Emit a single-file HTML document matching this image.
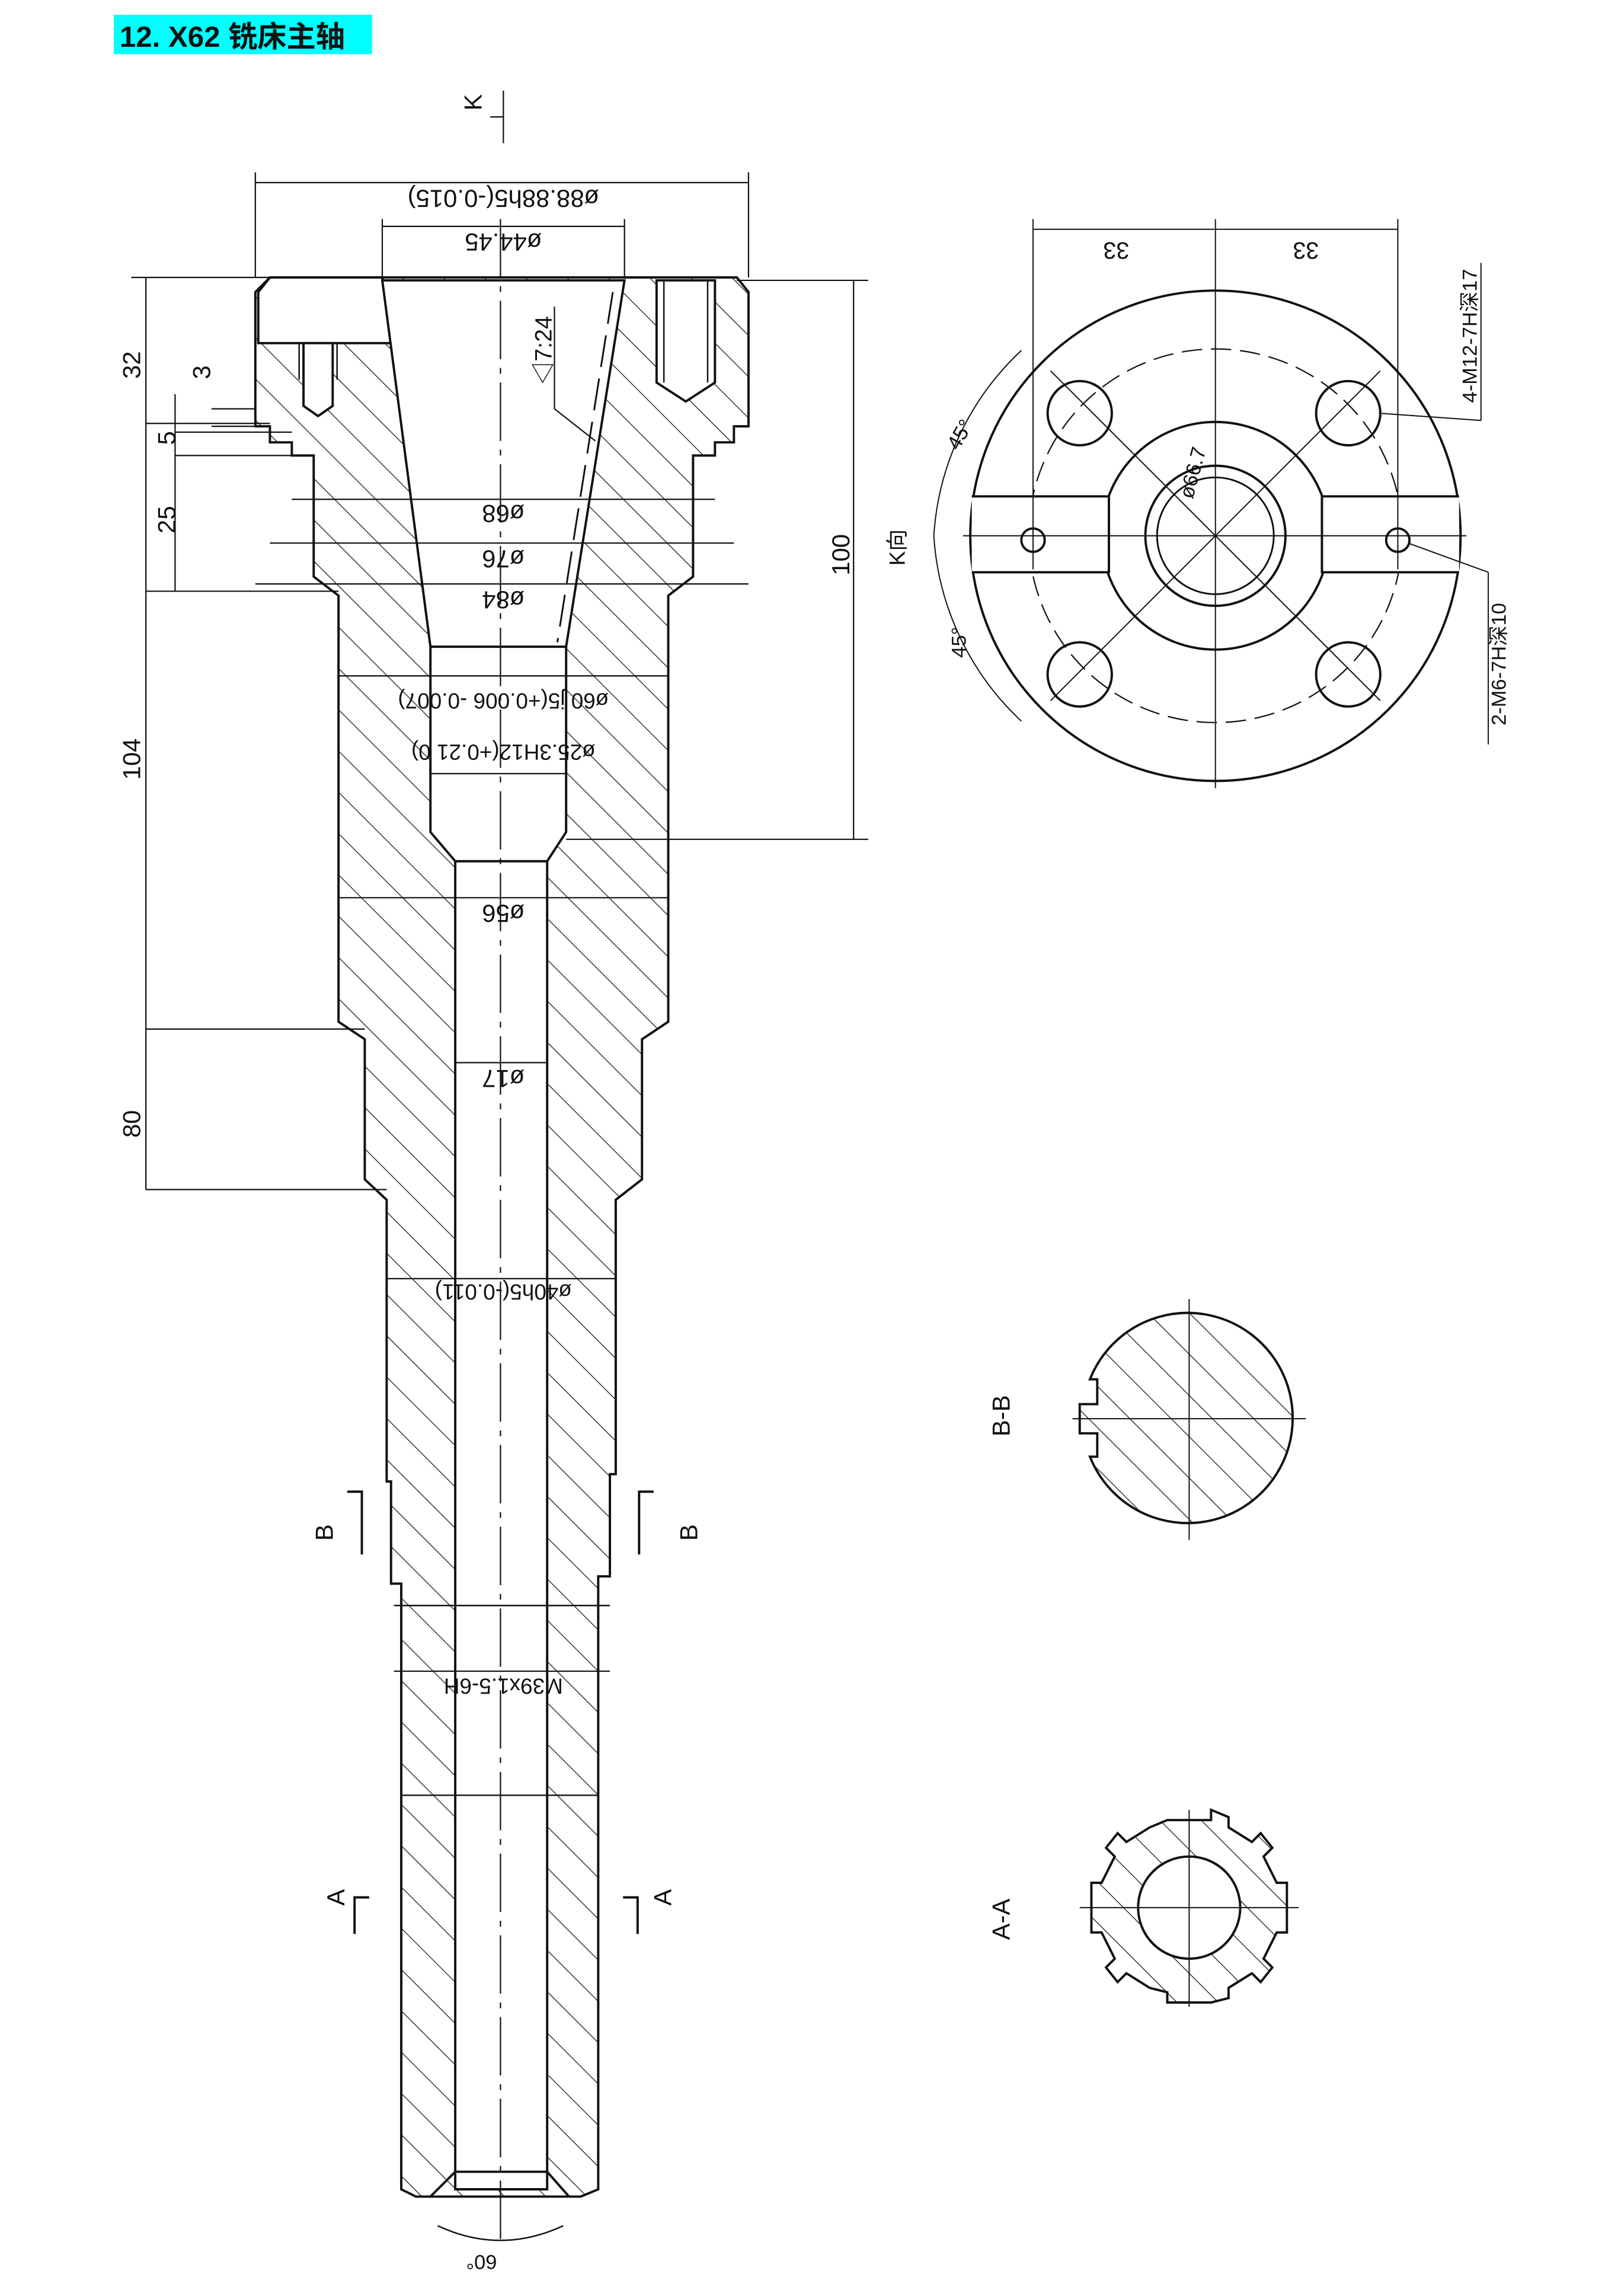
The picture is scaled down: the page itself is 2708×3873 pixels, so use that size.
<!DOCTYPE html>
<html><head><meta charset="utf-8"><style>
html,body{margin:0;padding:0;background:#fff;}
svg{display:block;}
text{font-family:"Liberation Sans","Noto Sans CJK SC",sans-serif;fill:#111;}
</style></head><body>
<svg width="2708" height="3873" viewBox="0 0 1100 1573" xmlns="http://www.w3.org/2000/svg">
<defs>
<pattern id="h" patternUnits="userSpaceOnUse" width="20" height="20" patternTransform="rotate(-45)">
<line x1="0" y1="0" x2="0" y2="20" stroke="#222" stroke-width="1.1"/>
</pattern>
</defs>
<rect x="0" y="0" width="1100" height="1573" fill="#fff"/>
<rect x="78" y="10" width="177" height="27" fill="#00ffff"/>
<text x="82" y="32" font-size="20" font-weight="bold">12. X62 铣床主轴</text>

<g stroke="#111" fill="none" stroke-width="1.6">
<path fill="url(#h)" d="M185,190 L505,190 L513,200 L513,292 L503,292 L503,303 L490,303 L490,312 L475,312 L475,395 L458,408 L458,700 L440,712 L440,808 L422,822 L422,1010 L418,1010 L418,1080 L410,1080 L410,1500 L398,1505 L285,1505 L275,1500 L275,1085 L268,1085 L268,1015 L265,1015 L265,822 L250,808 L250,712 L232,700 L232,408 L215,395 L215,312 L200,312 L200,303 L185,303 L185,292 L175,292 L175,200 Z"/>
<path fill="#fff" d="M185,190 L262,190 L270,235 L177,235 L177,200 Z"/>
<path fill="#fff" d="M262,192 L428,192 L388,443 L388,570 L375,590 L375,1500 L312,1500 L312,590 L295,570 L295,443 Z"/>
<line x1="295" y1="443" x2="388" y2="443"/>
<line x1="312" y1="590" x2="375" y2="590"/>
<line x1="275" y1="1230" x2="410" y2="1230" stroke-width="1"/>
<line x1="270" y1="1100" x2="418" y2="1100" stroke-width="1"/>
<path d="M295,1505 L312,1488 L375,1488 L390,1505"/>
<path d="M300,1525 Q343,1545 386,1525" stroke-width="1"/>
<path fill="#fff" d="M208,235 L228,235 L228,278 L218,285 L208,278 Z"/>
<line x1="205" y1="235" x2="205" y2="260" stroke-width="1"/>
<line x1="231" y1="235" x2="231" y2="260" stroke-width="1"/>
<path fill="#fff" d="M450,192 L490,192 L490,262 L470,275 L450,262 Z"/>
<line x1="455" y1="192" x2="455" y2="262" stroke-width="1"/>
<line x1="485" y1="192" x2="485" y2="262" stroke-width="1"/>
<line x1="420" y1="200" x2="382" y2="440" stroke-dasharray="22,8" stroke-width="1.2"/>
<line x1="343" y1="150" x2="343" y2="1540" stroke-dasharray="40,6,4,6" stroke-width="0.9"/>
</g>

<g stroke="#111" stroke-width="0.9" fill="none">
<line x1="175" y1="125" x2="513" y2="125"/><line x1="175" y1="118" x2="175" y2="190"/><line x1="513" y1="118" x2="513" y2="190"/>
<line x1="262" y1="155" x2="428" y2="155"/><line x1="262" y1="150" x2="262" y2="190"/><line x1="428" y1="150" x2="428" y2="190"/>
<line x1="200" y1="342" x2="490" y2="342"/><line x1="185" y1="372" x2="503" y2="372"/><line x1="175" y1="400" x2="513" y2="400"/>
<line x1="232" y1="463" x2="458" y2="463"/>
<line x1="295" y1="530" x2="388" y2="530"/>
<line x1="232" y1="615" x2="458" y2="615"/>
<line x1="312" y1="728" x2="375" y2="728"/>
<line x1="265" y1="876" x2="422" y2="876"/>
<line x1="270" y1="1145" x2="418" y2="1145"/>
<line x1="90" y1="190" x2="185" y2="190"/><line x1="100" y1="190" x2="100" y2="815"/>
<line x1="100" y1="290" x2="185" y2="290"/><line x1="100" y1="405" x2="232" y2="405"/>
<line x1="100" y1="705" x2="250" y2="705"/><line x1="100" y1="815" x2="265" y2="815"/>
<line x1="120" y1="270" x2="120" y2="405"/>
<line x1="120" y1="296" x2="200" y2="296"/><line x1="120" y1="312" x2="215" y2="312"/>
<line x1="145" y1="280" x2="175" y2="280"/><line x1="145" y1="292" x2="185" y2="292"/>
<line x1="505" y1="192" x2="595" y2="192"/><line x1="585" y1="192" x2="585" y2="575"/><line x1="388" y1="575" x2="595" y2="575"/>
<line x1="345" y1="62" x2="345" y2="98"/><line x1="336" y1="80" x2="345" y2="80"/>
<line x1="408" y1="302" x2="380" y2="280"/><line x1="380" y1="280" x2="380" y2="210"/>
</g>
<g font-size="17">
<text transform="translate(345,130) rotate(180)" text-anchor="middle">ø88.88h5(-0.015)</text>
<text transform="translate(345,160) rotate(180)" text-anchor="middle">ø44.45</text>
<text transform="translate(345,346) rotate(180)" text-anchor="middle">ø68</text>
<text transform="translate(345,377) rotate(180)" text-anchor="middle">ø76</text>
<text transform="translate(345,405) rotate(180)" text-anchor="middle">ø84</text>
<text transform="translate(345,475) rotate(180)" text-anchor="middle" font-size="15">ø60 j5(+0.006 -0.007)</text>
<text transform="translate(345,510) rotate(180)" text-anchor="middle" font-size="15">ø25.3H12(+0.21 0)</text>
<text transform="translate(345,620) rotate(180)" text-anchor="middle">ø56</text>
<text transform="translate(345,733) rotate(180)" text-anchor="middle">ø17</text>
<text transform="translate(345,880) rotate(180)" text-anchor="middle" font-size="15">ø40h5(-0.011)</text>
<text transform="translate(345,1150) rotate(180)" text-anchor="middle" font-size="15">M39x1.5-6H</text>
<text transform="translate(378,240) rotate(-90)" text-anchor="middle" font-size="16">◁7:24</text>
<text transform="translate(96,250) rotate(-90)" text-anchor="middle">32</text>
<text transform="translate(144,255) rotate(-90)" text-anchor="middle">3</text>
<text transform="translate(120,300) rotate(-90)" text-anchor="middle">5</text>
<text transform="translate(120,356) rotate(-90)" text-anchor="middle">25</text>
<text transform="translate(96,520) rotate(-90)" text-anchor="middle">104</text>
<text transform="translate(96,770) rotate(-90)" text-anchor="middle">80</text>
<text transform="translate(582,380) rotate(-90)" text-anchor="middle">100</text>
<text transform="translate(620,375) rotate(-90)" text-anchor="middle" font-size="15">K向</text>
<text transform="translate(330,70) rotate(-90)" text-anchor="middle">K</text>
<text transform="translate(330,1545) rotate(180)" text-anchor="middle" font-size="14">60°</text>
<text transform="translate(228,1050) rotate(-90)" text-anchor="middle">B</text>
<text transform="translate(478,1050) rotate(-90)" text-anchor="middle">B</text>
<text transform="translate(236,1300) rotate(-90)" text-anchor="middle">A</text>
<text transform="translate(460,1300) rotate(-90)" text-anchor="middle">A</text>
<text transform="translate(692,970) rotate(-90)" text-anchor="middle">B-B</text>
<text transform="translate(692,1315) rotate(-90)" text-anchor="middle">A-A</text>
</g>
<g stroke="#111" stroke-width="1.6" fill="none">
<path d="M248,1065 L248,1022 L238,1022"/><path d="M438,1065 L438,1022 L448,1022"/>
<path d="M243,1325 L243,1300 L253,1300"/><path d="M437,1325 L437,1300 L427,1300"/>
</g>

<g stroke="#111" stroke-width="1.6" fill="none">
<circle cx="833" cy="367" r="168"/>
<circle cx="833" cy="367" r="78"/>
<circle cx="833" cy="367" r="48"/>
<circle cx="833" cy="367" r="40" stroke-width="1.2"/>
<circle cx="833" cy="367" r="128" stroke-dasharray="14,6" stroke-width="0.9"/>
<path fill="#fff" d="M666,340 L760,340 L760,392 L666,392"/>
<path fill="#fff" d="M1000,340 L906,340 L906,392 L1000,392"/>
<circle cx="740" cy="283" r="22"/><circle cx="924" cy="283" r="22"/>
<circle cx="740" cy="462" r="22"/><circle cx="924" cy="462" r="22"/>
<circle cx="708" cy="370" r="8"/><circle cx="958" cy="370" r="8"/>
<g stroke-width="0.8">
<line x1="660" y1="367" x2="1005" y2="367"/><line x1="833" y1="150" x2="833" y2="540"/>
<line x1="720" y1="254" x2="946" y2="480"/><line x1="946" y1="254" x2="720" y2="480"/>
<line x1="708" y1="150" x2="708" y2="390"/><line x1="958" y1="150" x2="958" y2="390"/>
<line x1="708" y1="157" x2="958" y2="157"/>
<line x1="945" y1="283" x2="1015" y2="288"/><line x1="1015" y1="180" x2="1015" y2="288"/>
<line x1="965" y1="372" x2="1020" y2="392"/><line x1="1020" y1="392" x2="1020" y2="510"/>
<path d="M640,367 A190,190 0 0 1 700,240"/><path d="M640,367 A190,190 0 0 0 700,494"/>
</g>
</g>
<g font-size="16">
<text transform="translate(765,166) rotate(180)" text-anchor="middle">33</text>
<text transform="translate(895,166) rotate(180)" text-anchor="middle">33</text>
<text transform="translate(1012,230) rotate(-90)" text-anchor="middle" font-size="14">4-M12-7H深17</text>
<text transform="translate(1032,455) rotate(-90)" text-anchor="middle" font-size="14">2-M6-7H深10</text>
<text transform="translate(822,325) rotate(-75)" text-anchor="middle" font-size="14">ø66.7</text>
<text transform="translate(662,300) rotate(-60)" text-anchor="middle" font-size="14">45°</text>
<text transform="translate(662,440) rotate(-90)" text-anchor="middle" font-size="14">45°</text>
</g>

<g stroke="#111" stroke-width="1.6">
<path fill="url(#h)" d="M747,945 A72,72 0 1 1 747,998 L752,998 L752,982 L740,982 L740,962 L752,962 L752,945 Z"/>
<line x1="735" y1="972" x2="895" y2="972" stroke-width="0.8"/><line x1="815" y1="890" x2="815" y2="1055" stroke-width="0.8"/>
</g>
<g stroke="#111" stroke-width="1.6">
<path fill="url(#h)" fill-rule="evenodd" d="M800,1247 L830,1247 L830,1240 L842,1245 L842,1252 L858,1262 L864,1256 L872,1266 L866,1272 L875,1290 L882,1290 L882,1324 L875,1324 L866,1342 L872,1348 L864,1358 L858,1352 L842,1362 L842,1369 L830,1372 L800,1372 L800,1365 L788,1362 L772,1352 L766,1358 L758,1348 L764,1342 L755,1324 L748,1324 L748,1290 L755,1290 L764,1272 L758,1266 L766,1256 L772,1262 L788,1252 L800,1247 Z M850,1307 A35,35 0 1 0 780,1307 A35,35 0 1 0 850,1307 Z"/>
<line x1="740" y1="1307" x2="890" y2="1307" stroke-width="0.8"/><line x1="815" y1="1240" x2="815" y2="1375" stroke-width="0.8"/>
</g>
</svg>
</body></html>
